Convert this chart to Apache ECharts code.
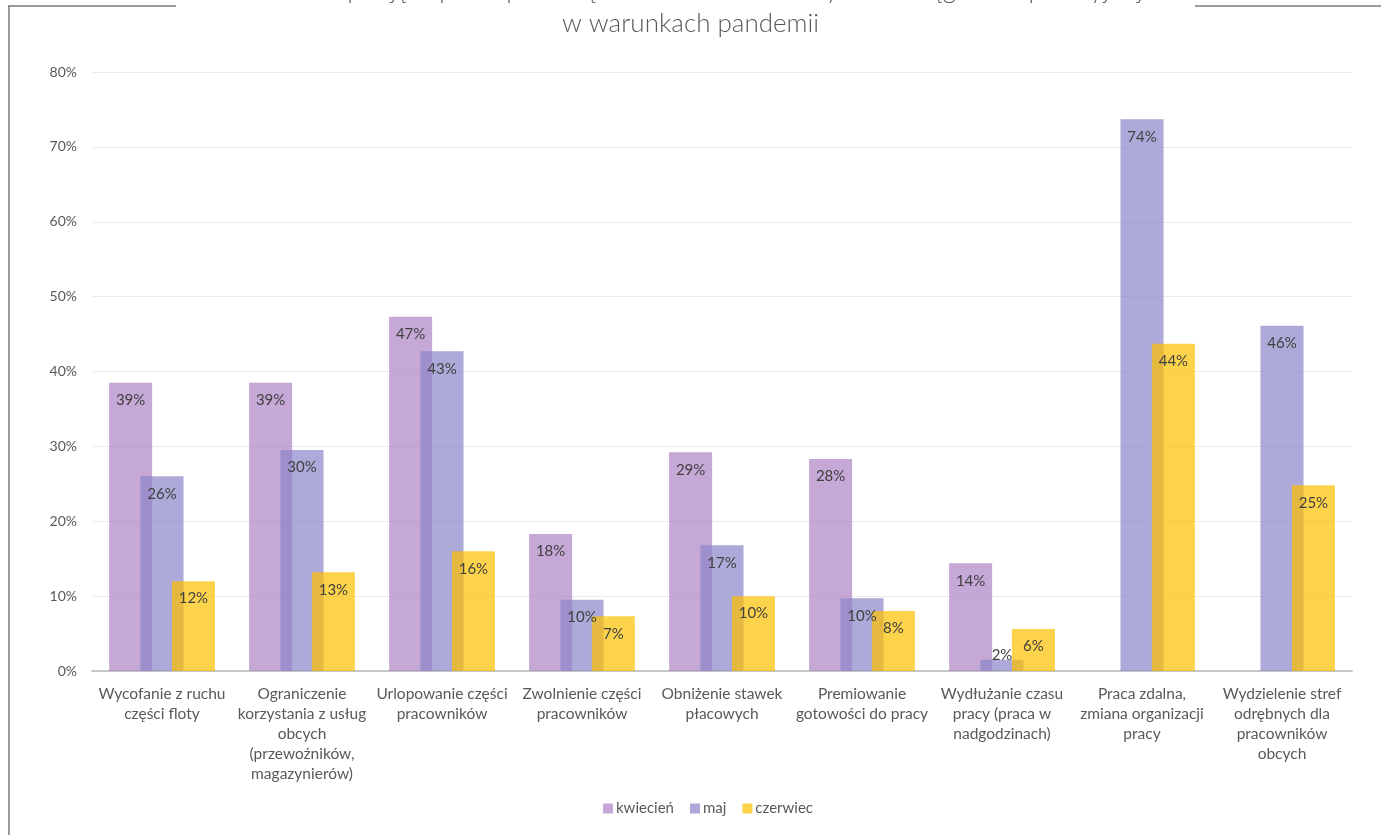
<!DOCTYPE html>
<html>
<head>
<meta charset="utf-8">
<script src="https://cdn.jsdelivr.net/npm/echarts@6/dist/echarts.min.js"></script>
<style>
  html, body { margin: 0; padding: 0; background: #ffffff; }
  #chart { width: 1381px; height: 835px; }
</style>
</head>
<body>
<div id="chart"></div>
<script>
// Action categories (line breaks as wrapped under the axis)
const categories = [
  'Wycofanie z ruchu\nczęści floty',
  'Ograniczenie\nkorzystania z usług\nobcych\n(przewoźników,\nmagazynierów)',
  'Urlopowanie części\npracowników',
  'Zwolnienie części\npracowników',
  'Obniżenie stawek\npłacowych',
  'Premiowanie\ngotowości do pracy',
  'Wydłużanie czasu\npracy (praca w\nnadgodzinach)',
  'Praca zdalna,\nzmiana organizacji\npracy',
  'Wydzielenie stref\nodrębnych dla\npracowników\nobcych'
];

// Share of companies (%) per month
const kwiecien = [38.5, 38.5, 47.3, 18.3, 29.2, 28.3, 14.4, null, null];
const maj      = [26.0, 29.5, 42.7, 9.5, 16.8, 9.7, 1.5, 73.7, 46.1];
const czerwiec = [12.0, 13.2, 16.0, 7.3, 10.0, 8.0, 5.6, 43.7, 24.8];

const seriesNames = ['kwiecień', 'maj', 'czerwiec'];
const yTicks = { min: 0, max: 80, interval: 10 };

const FONT = 'Lato, "Open Sans", sans-serif';
const colors = ['rgba(172,131,196,0.7)', 'rgba(138,133,199,0.7)', 'rgba(252,192,0,0.7)'];

function pct(p) { return Math.round(p.value) + '%'; }

function asData(values) {
  // very short bars carry their label just above the bar
  return values.map(v => {
    if (v == null) return '-';
    if (v < 3) return { value: v, label: { position: 'top', distance: -3 } };
    return v;
  });
}

function makeSeries(name, values, color) {
  return {
    name: name,
    type: 'bar',
    data: asData(values),
    barWidth: 43,
    barGap: '-27%',
    itemStyle: { color: color },
    label: {
      show: true,
      position: 'insideTop',
      distance: 10,
      formatter: pct,
      color: '#404040',
      fontSize: 15,
      fontFamily: FONT
    },
    emphasis: { disabled: true }
  };
}

const chart = echarts.init(document.getElementById('chart'), null, { renderer: 'canvas' });

chart.setOption({
  backgroundColor: '#ffffff',
  animation: false,
  title: {
    text: 'Działania podjęte przez przedsiębiorstwa w celu utrzymania ciągłości operacyjnej\nw warunkach pandemii',
    left: 'center',
    top: -27,
    padding: 0,
    textStyle: {
      fontFamily: FONT,
      fontWeight: 300,
      fontSize: 26,
      lineHeight: 34,
      color: '#595959'
    }
  },
  graphic: [
    { type: 'line', shape: { x1: 8, y1: 6, x2: 176, y2: 6 }, style: { stroke: '#7a7a7a', lineWidth: 1.5 }, silent: true },
    { type: 'line', shape: { x1: 1195, y1: 6, x2: 1381, y2: 6 }, style: { stroke: '#7a7a7a', lineWidth: 1.5 }, silent: true },
    { type: 'line', shape: { x1: 9, y1: 6, x2: 9, y2: 835 }, style: { stroke: '#7a7a7a', lineWidth: 1.5 }, silent: true }
  ],
  legend: {
    data: seriesNames,
    bottom: 14,
    left: 598,
    itemWidth: 10,
    itemHeight: 10,
    itemGap: 16,
    icon: 'rect',
    textStyle: { fontFamily: FONT, fontSize: 15, color: '#595959', padding: [0, 0, 0, -2] }
  },
  grid: { left: 92, right: 29, top: 72, bottom: 164, containLabel: false },
  xAxis: {
    type: 'category',
    data: categories,
    axisLine: { lineStyle: { color: '#c6c6c6', width: 2 } },
    axisTick: { show: false },
    axisLabel: {
      interval: 0,
      margin: 13,
      fontFamily: FONT,
      fontSize: 15.5,
      lineHeight: 20,
      color: '#595959'
    }
  },
  yAxis: {
    type: 'value',
    min: yTicks.min,
    max: yTicks.max,
    interval: yTicks.interval,
    axisLine: { show: false },
    axisTick: { show: false },
    splitLine: { lineStyle: { color: '#ebebeb', width: 1 } },
    axisLabel: {
      formatter: '{value}%',
      margin: 15,
      fontFamily: FONT,
      fontSize: 14,
      color: '#595959'
    }
  },
  series: [
    makeSeries(seriesNames[0], kwiecien, colors[0]),
    makeSeries(seriesNames[1], maj, colors[1]),
    makeSeries(seriesNames[2], czerwiec, colors[2])
  ]
});
</script>
</body>
</html>
